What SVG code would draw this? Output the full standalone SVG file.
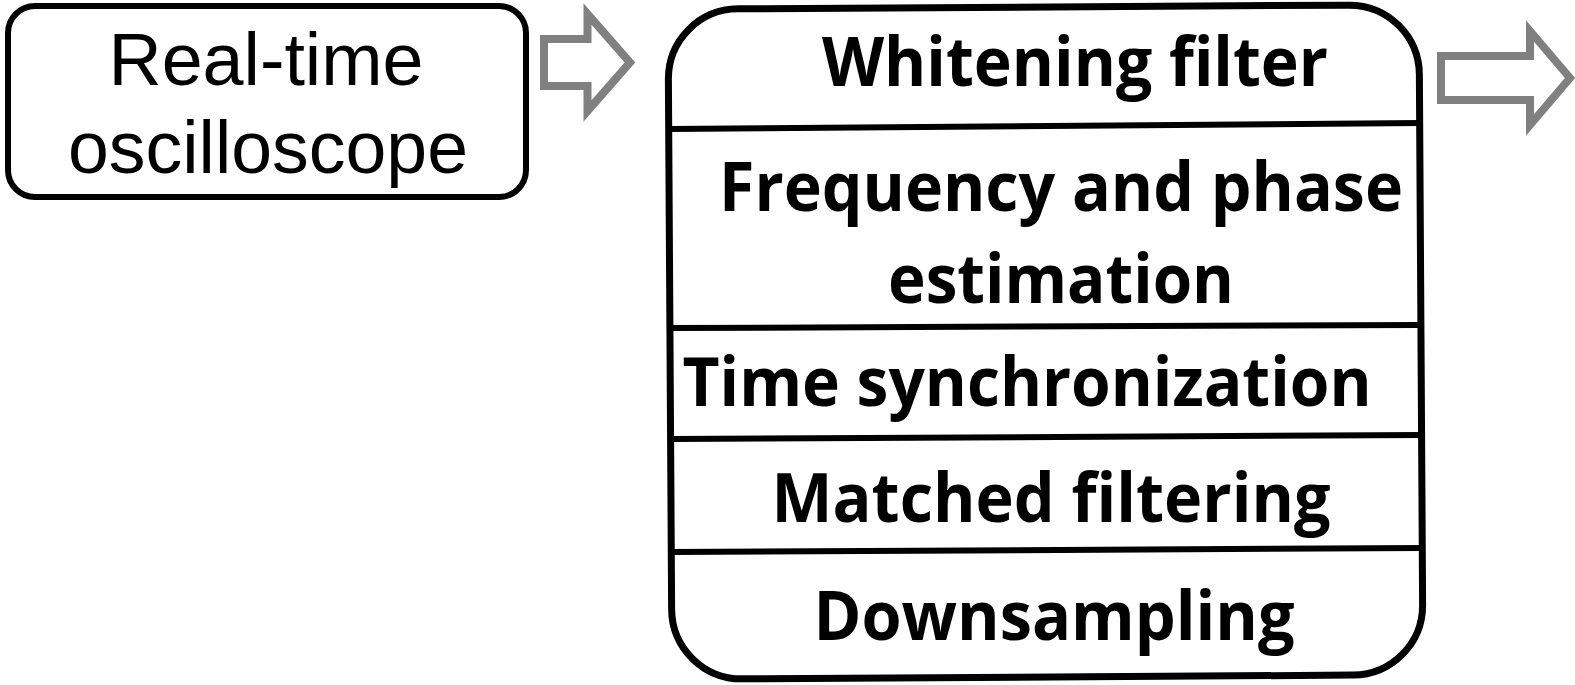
<svg xmlns="http://www.w3.org/2000/svg" width="1575" height="685" viewBox="0 0 1575 685">
<style>
.box{fill:#fff;stroke:#000;stroke-width:6}
.big{fill:#fff;stroke:#000;stroke-width:7}
.div{stroke:#000;stroke-width:6;fill:none}
.arr{fill:#fff;stroke:#808080;stroke-width:8;stroke-linejoin:miter}
.lt{font-family:"Liberation Sans",Arial,sans-serif;font-size:74px;fill:#000;text-anchor:middle}
.bt{font-family:"Open Sans","Noto Sans",sans-serif;font-weight:bold;font-size:68px;fill:#000;text-anchor:middle}
</style>
<rect width="1575" height="685" fill="#fff"/>
<g id="oscilloscope">
<rect class="box" x="8" y="6" width="518" height="191" rx="27"/>
<text class="lt" x="266" y="85" textLength="315" lengthAdjust="spacingAndGlyphs">Real-time</text>
<text class="lt" x="268" y="173" textLength="400" lengthAdjust="spacingAndGlyphs">oscilloscope</text>
</g>
<g id="connectors">
<polygon class="arr" points="544,39 587.5,39 587.5,14 630,62.5 587.5,111 587.5,86 544,86"/>
<polygon class="arr" points="1441,56 1530,56 1530,31 1570,78 1530,125 1530,100 1441,100"/>
</g>
<g id="dsp">
<rect class="big" x="670" y="7" width="751" height="670" rx="70" transform="rotate(-0.35 1045 342)"/>
<line class="div" x1="670" y1="129" x2="1421" y2="123"/>
<line class="div" x1="670" y1="328" x2="1423" y2="325"/>
<line class="div" x1="671" y1="439" x2="1424" y2="435"/>
<line class="div" x1="672" y1="552" x2="1424" y2="548"/>
<text class="bt" x="1075" y="86" textLength="506" lengthAdjust="spacingAndGlyphs">Whitening filter</text>
<text class="bt" x="1061" y="211" textLength="684" lengthAdjust="spacingAndGlyphs">Frequency and phase</text>
<text class="bt" x="1061" y="303" textLength="346" lengthAdjust="spacingAndGlyphs">estimation</text>
<text class="bt" x="1027" y="406" textLength="689" lengthAdjust="spacingAndGlyphs">Time synchronization</text>
<text class="bt" x="1051" y="522" textLength="559" lengthAdjust="spacingAndGlyphs">Matched filtering</text>
<text class="bt" x="1054" y="640" textLength="481" lengthAdjust="spacingAndGlyphs">Downsampling</text>
</g>
</svg>
